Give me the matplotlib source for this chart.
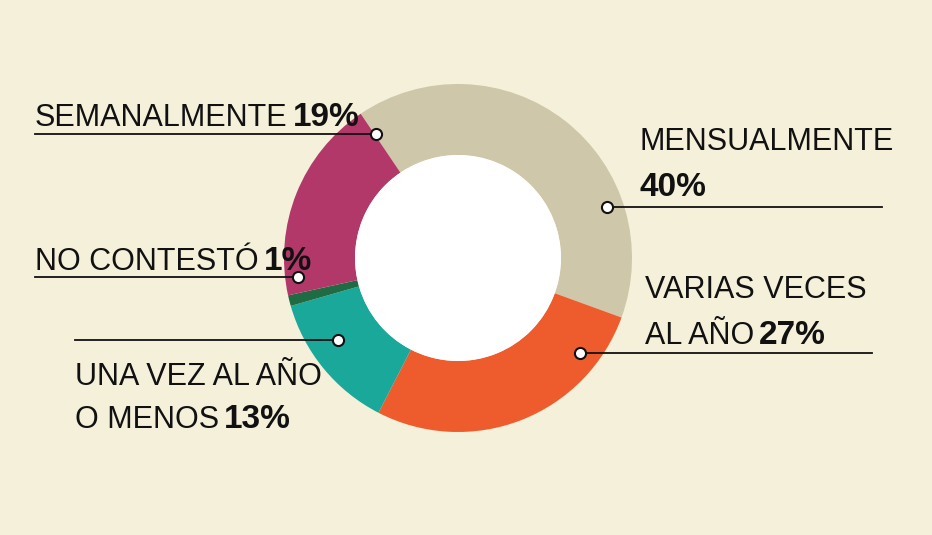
import matplotlib
matplotlib.use("Agg")
import matplotlib.pyplot as plt
from matplotlib.patches import Ellipse

categories = ["MENSUALMENTE", "VARIAS VECES AL AÑO", "UNA VEZ AL AÑO O MENOS", "NO CONTESTÓ", "SEMANALMENTE"]
values = [40, 27, 13, 1, 19]
colors = ["#CFC7A9", "#EE5C2E", "#1AA89B", "#1F6B44", "#B3386A"]
pct_labels = ["40%", "27%", "13%", "1%", "19%"]

W, H = 932, 535
bg = "#F4F0DA"
fig = plt.figure(figsize=(W/100, H/100), dpi=100, facecolor=bg)
ax = fig.add_axes([0, 0, 1, 1])
cx, cy = 458, H-258
ax.pie(values, colors=colors, startangle=124, counterclock=False, center=(cx, cy),
       radius=174, wedgeprops=dict(width=71, edgecolor="none"), frame=True)
ax.add_patch(Ellipse((cx, cy), 2*103, 2*103, facecolor="white", edgecolor="none", zorder=3))
ax.set_xlim(0, W); ax.set_ylim(0, H); ax.axis("off")
ax.set_aspect("auto")

fam = ["Liberation Sans", "DejaVu Sans"]
fs = 22
renderer = fig.canvas.get_renderer()

def t(x, y, s, bold=False):
    return ax.text(x, H-y, s, ha="left", va="baseline", fontsize=fs + (2 if bold else 0), family=fam,
                   fontweight="bold" if bold else "normal", color="#111111")

def tp(x, y, s, p):
    a = t(x, y, s)
    bb = a.get_window_extent(renderer)
    t(bb.x1 + 5, y, p, bold=True)

def leader(x0, x1, y, dotx):
    ax.plot([x0, x1], [H-y, H-y], color="#111111", lw=1.3, zorder=5)
    ax.plot([dotx], [H-y], "o", ms=8, mfc="white", mec="#111111", mew=1.5, zorder=6)

tp(35, 126, categories[4], pct_labels[4])
leader(35, 376, 134, 376)
tp(35, 270, categories[3], pct_labels[3])
leader(35, 298, 277, 298)
t(75, 385, "UNA VEZ AL AÑO"); tp(75, 428, "O MENOS", pct_labels[2])
leader(75, 338, 340, 338)
t(640, 150, categories[0]); t(640, 196, pct_labels[0], bold=True)
leader(607, 882, 207, 607)
t(645, 298, "VARIAS VECES"); tp(645, 344, "AL AÑO", pct_labels[1])
leader(580, 872, 353, 580)

fig.savefig("out.png", dpi=100, facecolor=bg)
